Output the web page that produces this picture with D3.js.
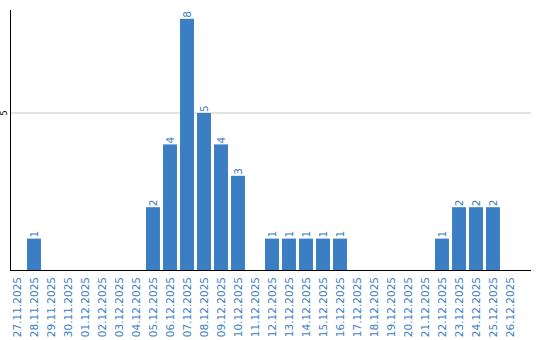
<!DOCTYPE html>
<html>
<head>
<meta charset="utf-8">
<script src="https://cdn.jsdelivr.net/npm/d3@7"></script>
<style>
  body { margin: 0; background: #fff; }
  svg { display: block; }
  text { font-family: "DejaVu Sans", Verdana, sans-serif; }
</style>
</head>
<body>
<svg id="chart" width="540" height="340"></svg>
<script>
// chart data
const days = [
  '27.11.2025', '28.11.2025', '29.11.2025', '30.11.2025', '01.12.2025',
  '02.12.2025', '03.12.2025', '04.12.2025', '05.12.2025', '06.12.2025',
  '07.12.2025', '08.12.2025', '09.12.2025', '10.12.2025', '11.12.2025',
  '12.12.2025', '13.12.2025', '14.12.2025', '15.12.2025', '16.12.2025',
  '17.12.2025', '18.12.2025', '19.12.2025', '20.12.2025', '21.12.2025',
  '22.12.2025', '23.12.2025', '24.12.2025', '25.12.2025', '26.12.2025'
];
const counts = [0, 1, 0, 0, 0, 0, 0, 0, 2, 4, 8, 5, 4, 3, 0, 1, 1, 1, 1, 1, 0, 0, 0, 0, 0, 1, 2, 2, 2, 0];
const yTicks = [5];

const blue = '#3b7ec3';
const svg = d3.select('#chart');

// scales
const xScale = d3.scaleBand().domain(days).range([8.5, 518.5]).paddingInner(0.18).paddingOuter(0.09);
const yScale = d3.scaleLinear().domain([0, 8.28]).range([270, 10]);

// grid line
svg.append('g')
  .selectAll('line')
  .data(yTicks)
  .enter()
  .append('line')
  .attr('x1', 11)
  .attr('x2', 531)
  .attr('y1', d => yScale(d))
  .attr('y2', d => yScale(d))
  .attr('stroke', '#c8c8c8')
  .attr('stroke-width', 1);

// y tick labels
svg.append('g')
  .selectAll('text')
  .data(yTicks)
  .enter()
  .append('text')
  .text(d => d)
  .attr('transform', d => `translate(7, ${yScale(d)}) rotate(-90)`)
  .attr('text-anchor', 'middle')
  .style('font-size', '8px')
  .style('fill', '#000');

// bars
svg.append('g')
  .selectAll('rect')
  .data(counts)
  .enter()
  .append('rect')
  .attr('x', (d, i) => xScale(days[i]))
  .attr('y', d => yScale(d))
  .attr('width', xScale.bandwidth())
  .attr('height', d => yScale(0) - yScale(d))
  .attr('fill', blue);

// value labels
svg.append('g')
  .selectAll('text')
  .data(counts.map((v, i) => ({ v, day: days[i] })).filter(d => d.v > 0))
  .enter()
  .append('text')
  .text(d => d.v)
  .attr('transform', d => `translate(${xScale(d.day) + xScale.bandwidth() / 2 + 3.5}, ${yScale(d.v) - 1}) rotate(-90)`)
  .attr('text-anchor', 'start')
  .style('font-size', '10.5px')
  .style('fill', blue);

// axes lines
svg.append('line')
  .attr('x1', 10.5).attr('x2', 10.5)
  .attr('y1', 10).attr('y2', 270.5)
  .attr('stroke', '#000');
svg.append('line')
  .attr('x1', 10).attr('x2', 531)
  .attr('y1', 270.5).attr('y2', 270.5)
  .attr('stroke', '#000');

// x labels
svg.append('g')
  .selectAll('text')
  .data(days)
  .enter()
  .append('text')
  .text(d => d)
  .attr('transform', d => `translate(${xScale(d) + xScale.bandwidth() / 2 + 3.5}, 277) rotate(-90)`)
  .attr('text-anchor', 'end')
  .style('font-size', '10.5px')
  .style('fill', blue);
</script>
</body>
</html>
